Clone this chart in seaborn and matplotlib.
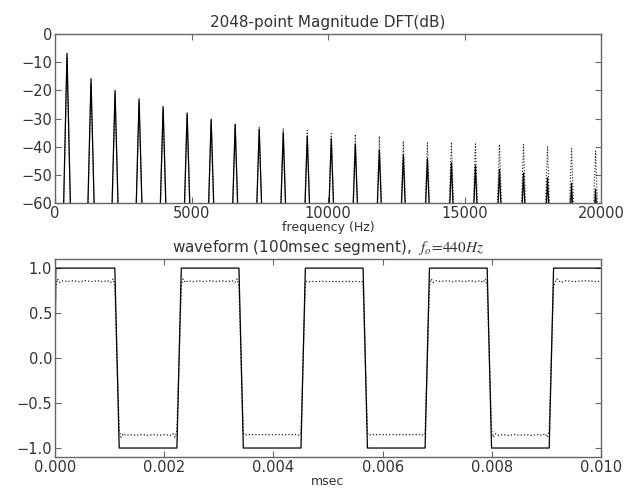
import numpy as np
import pandas as pd
import matplotlib
matplotlib.use("Agg")
import matplotlib.pyplot as plt
import seaborn as sns

# ---------------- data ----------------
# odd harmonics of 440 Hz
harmonic_freqs = [440, 1320, 2200, 3080, 3960, 4840, 5720, 6600, 7480, 8360,
                  9240, 10120, 11000, 11880, 12760, 13640, 14520, 15400,
                  16280, 17160, 18040, 18920, 19800]
# peak magnitude (dB) of the solid spectrum
solid_peak_db = [-6.8, -15.8, -20.0, -23.0, -25.7, -28.0, -30.2, -32.0, -33.8,
                 -35.0, -36.2, -37.0, -39.0, -41.2, -43.0, -44.3, -45.7, -46.7,
                 -48.1, -49.3, -51.0, -53.0, -55.1]
# peak magnitude (dB) of the dotted spectrum
dotted_peak_db = [-8.2, -17.3, -21.4, -24.3, -26.9, -29.0, -30.9, -32.3, -32.9,
                  -33.4, -34.2, -35.3, -35.6, -36.3, -38.0, -38.6, -38.4, -39.0,
                  -39.2, -39.2, -40.0, -40.7, -41.6]

# waveform: times (s) of the square-wave edges, and the level sign of each segment
edge_times = [0.001136, 0.002273, 0.003409, 0.004545, 0.005682, 0.006818,
              0.007955, 0.009091]
segment_signs = [1, -1, 1, -1, 1, -1, 1, -1, 1]
# dotted (band-limited) plateau: relative position inside a half period and level
plateau_pos = [0.00, 0.03, 0.07, 0.12, 0.20, 0.30, 0.40, 0.50, 0.60, 0.70, 0.80,
               0.88, 0.93, 0.97, 1.00]
plateau_level = [0.80, 0.88, 0.84, 0.86, 0.85, 0.86, 0.85, 0.86, 0.85, 0.86, 0.85,
                 0.86, 0.84, 0.88, 0.80]
segment_ripple = [1.0, 1.0, 1.0, 0.3, 0.2, 0.3, 1.0, 1.0, 1.0]

# ---------------- styling ----------------
sns.set_style("white")
plt.rcParams["font.family"] = ["DejaVu Sans"]
plt.rcParams["mathtext.fontset"] = "stix"
text_col = "#333333"
spine_col = "#666666"

fig = plt.figure(figsize=(6.35, 4.88), dpi=100)
ax1 = fig.add_axes([0.0866, 0.584, 0.8599, 0.346])
ax2 = fig.add_axes([0.0866, 0.0635, 0.8599, 0.4055])

# ---------------- spectrum ----------------
floor_db = -100.0
half_width = 215.0


def spectrum_frame(peaks):
    xs, ys = [], []
    for f, p in zip(harmonic_freqs, peaks):
        xs += [f - half_width, f, f + half_width]
        ys += [floor_db, p, floor_db]
    return pd.DataFrame({"freq": xs, "db": ys})


spec_dot = spectrum_frame(dotted_peak_db)
spec_sol = spectrum_frame(solid_peak_db)
sns.lineplot(data=spec_dot, x="freq", y="db", ax=ax1, sort=False, estimator=None,
             color="#222222", linestyle=":", linewidth=0.8)
sns.lineplot(data=spec_sol, x="freq", y="db", ax=ax1, sort=False, estimator=None,
             color="black", linewidth=0.9)
ax1.set_xlim(0, 20000)
ax1.set_ylim(-60, 0)
ax1.set_xticks([0, 5000, 10000, 15000, 20000])
ax1.set_yticks([-60, -50, -40, -30, -20, -10, 0])
ax1.set_title("2048-point Magnitude DFT(dB)", fontsize=11, color=text_col, pad=5)
ax1.set_xlabel("frequency (Hz)", fontsize=9, color=text_col, labelpad=0)
ax1.set_ylabel("")

# ---------------- waveform ----------------
ramp = 0.00004
bounds = [0.0] + edge_times + [0.010]

sol_t, sol_v = [0.0], [0.0]
dot_t, dot_v = [0.0], [0.0]
for k, s in enumerate(segment_signs):
    t0, t1 = bounds[k], bounds[k + 1]
    a = t0 + (ramp if k > 0 else 0.000015)
    b = t1 - ramp if k < len(segment_signs) - 1 else t1 + 0.00105
    sol_t += [a, min(b, 0.0101)]
    sol_v += [s * 1.0, s * 1.0]
    for p, lv in zip(plateau_pos, plateau_level):
        tt = a + p * (b - a)
        dot_t.append(tt)
        dot_v.append(s * (0.85 + segment_ripple[k] * (lv - 0.85)))

wave_sol = pd.DataFrame({"t": sol_t, "v": sol_v})
wave_dot = pd.DataFrame({"t": dot_t, "v": dot_v})
sns.lineplot(data=wave_dot, x="t", y="v", ax=ax2, sort=False, estimator=None,
             color="#222222", linestyle=":", linewidth=0.9)
sns.lineplot(data=wave_sol, x="t", y="v", ax=ax2, sort=False, estimator=None,
             color="black", linewidth=0.9)
ax2.set_xlim(0, 0.010)
ax2.set_ylim(-1.1, 1.1)
ax2.set_xticks([0.0, 0.002, 0.004, 0.006, 0.008, 0.010])
ax2.set_xticklabels(["0.000", "0.002", "0.004", "0.006", "0.008", "0.010"])
ax2.set_yticks([-1.0, -0.5, 0.0, 0.5, 1.0])
ax2.set_yticklabels(["\u22121.0", "\u22120.5", "0.0", "0.5", "1.0"])
ax2.set_title("waveform (100msec segment),  $f_o\\!=\\!440Hz$", fontsize=11,
              color=text_col, pad=5)
ax2.set_xlabel("msec", fontsize=9, color=text_col, labelpad=0)
ax2.set_ylabel("")

for ax in (ax1, ax2):
    for sp in ax.spines.values():
        sp.set_visible(True)
        sp.set_color(spine_col)
        sp.set_linewidth(1.0)
    ax.tick_params(direction="in", length=4, width=0.8, color=spine_col,
                   labelsize=10.5, labelcolor=text_col, top=True, right=True,
                   bottom=True, left=True, pad=2)

fig.savefig("out.png", dpi=100)
